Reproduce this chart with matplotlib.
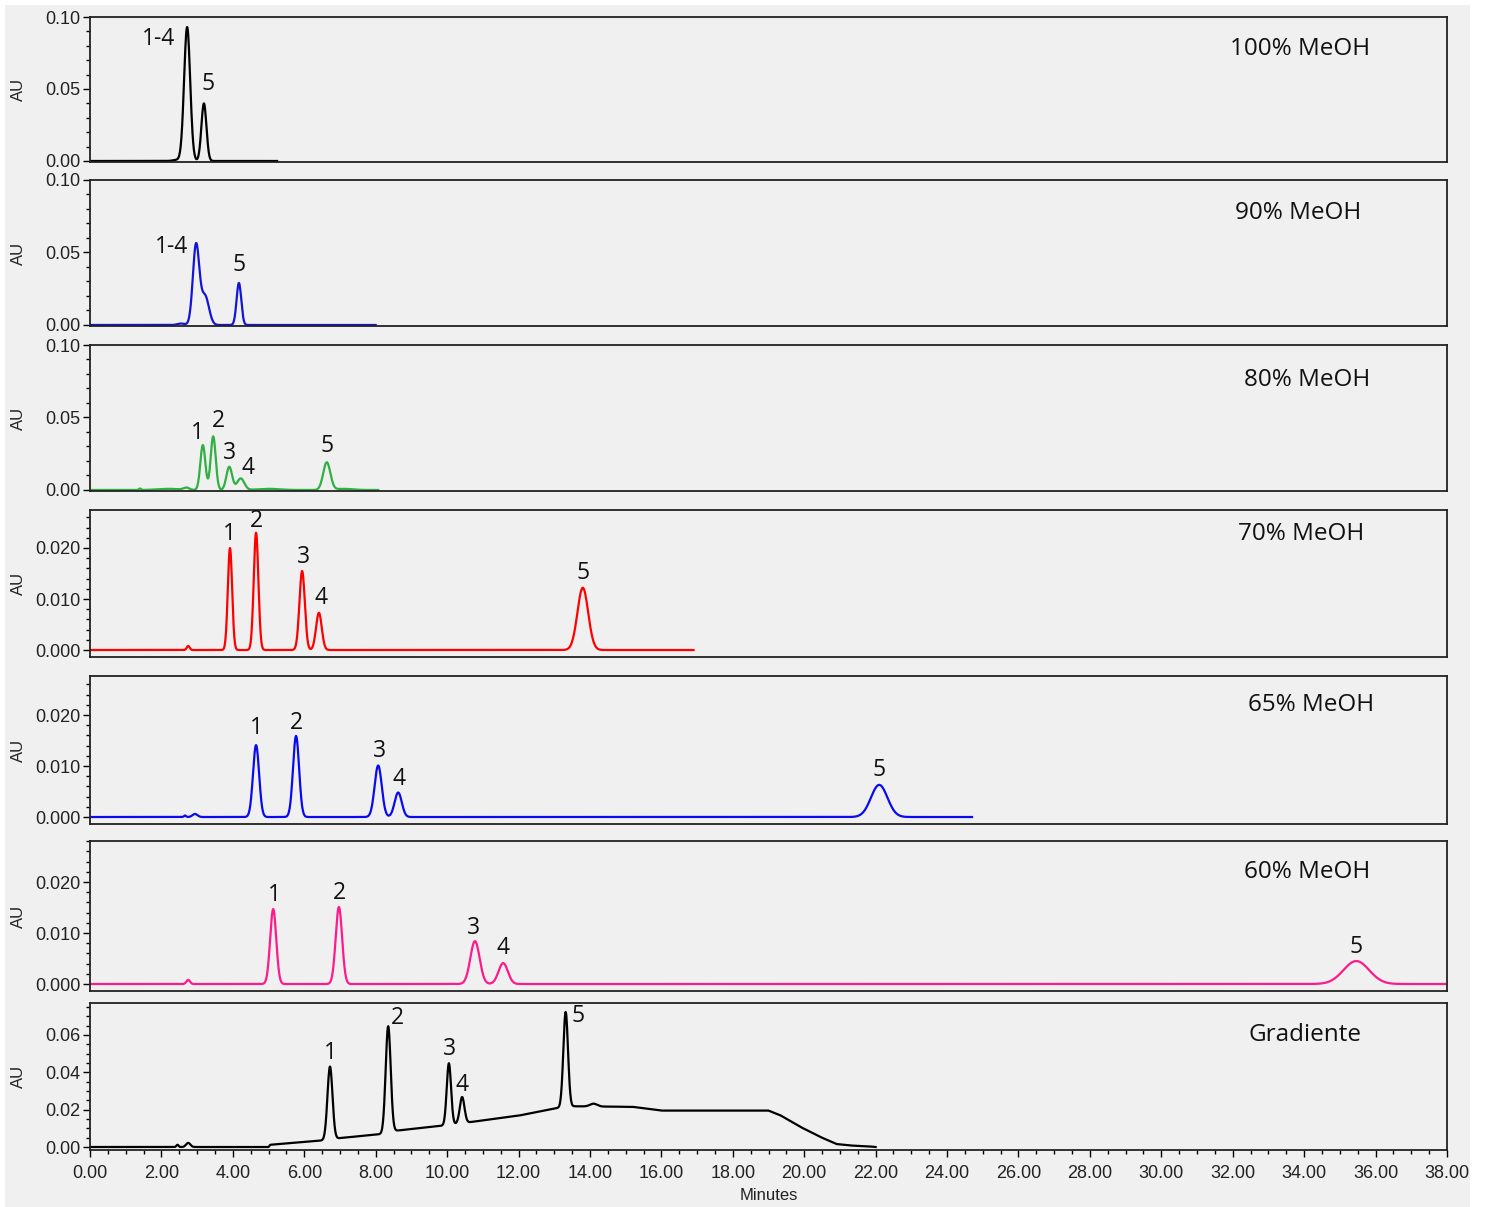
import numpy as np
import matplotlib.pyplot as plt
from matplotlib.patches import Rectangle
from matplotlib.ticker import MultipleLocator, FormatStrFormatter

# peak tables: retention time (min), height (AU), peak sd (min)
rt_100 = [2.45, 2.72, 3.19]
h_100 = [0.0008, 0.093, 0.040]
sd_100 = [0.12, 0.085, 0.07]
lab_100 = ["", "1-4", "5"]

rt_90 = [2.55, 2.97, 3.22, 4.17]
h_90 = [0.001, 0.055, 0.020, 0.029]
sd_90 = [0.1, 0.09, 0.11, 0.065]
lab_90 = ["", "1-4", "", "5"]

rt_80 = [1.40, 2.20, 2.70, 3.16, 3.45, 3.90, 4.22, 5.00, 6.63, 7.10]
h_80 = [0.001, 0.0008, 0.0015, 0.031, 0.037, 0.016, 0.008, 0.0008, 0.019, 0.0008]
sd_80 = [0.03, 0.3, 0.08, 0.07, 0.07, 0.08, 0.1, 0.3, 0.1, 0.25]
lab_80 = ["", "", "", "1", "2", "3", "4", "", "5", ""]

rt_70 = [2.75, 3.92, 4.65, 5.94, 6.41, 13.80]
h_70 = [0.0008, 0.020, 0.023, 0.0155, 0.0073, 0.0122]
sd_70 = [0.04, 0.06, 0.065, 0.075, 0.08, 0.15]
lab_70 = ["", "1", "2", "3", "4", "5"]

rt_65 = [2.66, 2.94, 4.65, 5.77, 8.07, 8.63, 22.10]
h_65 = [0.0003, 0.0006, 0.0141, 0.0159, 0.0101, 0.0048, 0.0063]
sd_65 = [0.03, 0.07, 0.085, 0.085, 0.1, 0.1, 0.23]
lab_65 = ["", "", "1", "2", "3", "4", "5"]

rt_60 = [2.75, 5.13, 6.97, 10.78, 11.57, 35.46]
h_60 = [0.0008, 0.0147, 0.0151, 0.0084, 0.0041, 0.0045]
sd_60 = [0.05, 0.085, 0.09, 0.13, 0.13, 0.36]
lab_60 = ["", "1", "2", "3", "4", "5"]

rt_gr = [2.45, 2.75, 6.72, 8.35, 10.05, 10.42, 13.32, 14.10]
h_gr = [0.0012, 0.0022, 0.039, 0.057, 0.033, 0.014, 0.051, 0.0015]
sd_gr = [0.03, 0.06, 0.07, 0.07, 0.06, 0.065, 0.065, 0.1]
lab_gr = ["", "", "1", "2", "3", "4", "5", ""]

# gradient run baseline drift (min, AU)
base_t = [0.0, 5.0, 5.05, 6.5, 7.0, 8.2, 8.6, 9.9, 10.75, 12.0, 13.1, 13.56, 15.2,
          16.0, 19.0, 19.33, 19.9, 20.45, 20.9, 21.3, 21.85, 22.0]
base_y = [0.0, 0.0, 0.0012, 0.0035, 0.0048, 0.007, 0.0088, 0.0115, 0.0136, 0.0168,
          0.0209, 0.0218, 0.0215, 0.0195, 0.0195, 0.017, 0.0107, 0.0054, 0.0016,
          0.0008, 0.0003, 0.0]

run_end = [5.24, 8.0, 8.07, 16.9, 24.7, 38.0, 22.0]
titles = ["100% MeOH", "90% MeOH", "80% MeOH", "70% MeOH", "65% MeOH", "60% MeOH",
          "Gradiente"]
colors = ["black", "#1414d8", "#2eb043", "#ff0000", "#0a0af0", "#ff1a8c", "black"]

runs = [(rt_100, h_100, sd_100, lab_100), (rt_90, h_90, sd_90, lab_90),
        (rt_80, h_80, sd_80, lab_80), (rt_70, h_70, sd_70, lab_70),
        (rt_65, h_65, sd_65, lab_65), (rt_60, h_60, sd_60, lab_60),
        (rt_gr, h_gr, sd_gr, lab_gr)]

# label offsets in pixels (dx, dy) for labelled peaks of each run
offs = [[(-29, -12), (4, 19)],
        [(-25, -4), (0, 18)],
        [(-5, 12), (5, 15), (0, 14), (7, 10), (0, 16)],
        [(-1, 14), (0, 12), (1, 14), (2, 15), (0, 15)],
        [(0, 17), (0, 13), (1, 15), (1, 14), (0, 15)],
        [(1, 14), (1, 14), (-1, 13), (0, 15), (0, 14)],
        [(0, 14), (9, 8), (1, 14), (0, 12), (12, -4)]]

# panel boxes in pixels (top, bottom), y ranges, title placement (x, drop from top)
boxes = [(17, 162), (180, 326), (345, 491), (510, 657), (676, 824), (841, 991),
         (1003, 1150)]
ylims = [(-0.0007, 0.10), (-0.0007, 0.10), (-0.0007, 0.10), (-0.00137, 0.02745),
         (-0.00137, 0.02765), (-0.00137, 0.02804), (-0.0016, 0.0771)]
title_pos = [(1300, 32), (1298, 33), (1307, 35), (1301, 24), (1311, 29), (1307, 31),
             (1305, 32)]

W, H = 1489, 1207
fig = plt.figure(figsize=(W / 100, H / 100), dpi=100, facecolor="white")
fig.patches.append(Rectangle((5 / W, 0), 1465 / W, 1202 / H, transform=fig.transFigure,
                             facecolor="#f0f0f0", edgecolor="none", zorder=-10))

tick_font = ["Liberation Sans", "DejaVu Sans"]
txt_font = ["Open Sans", "DejaVu Sans"]
left, right = 90, 1447

for i, (rt, h, sd, lab) in enumerate(runs):
    top, bot = boxes[i]
    ax = fig.add_axes([left / W, 1 - bot / H, (right - left) / W, (bot - top) / H])
    ax.set_facecolor("#f0f0f0")

    t = np.arange(0, run_end[i] + 0.001, 0.01)
    y = np.zeros_like(t)
    if i == 6:
        y += np.interp(t, base_t, base_y)
    for r, hh, s in zip(rt, h, sd):
        y += hh * np.exp(-0.5 * ((t - r) / s) ** 2)
    ax.plot(t, y, color=colors[i], lw=1.6)

    k = 0
    for r, name in zip(rt, lab):
        if not name:
            continue
        dx, dy = offs[i][k]
        k += 1
        ax.annotate(name, (r, np.interp(r, t, y)), xytext=(dx, dy),
                    textcoords="offset pixels", ha="center", va="center",
                    fontsize=16.5, family=txt_font, color="#111111")

    tx, ty = title_pos[i]
    fig.text(tx / W, 1 - (top + ty) / H, titles[i], ha="center", va="center",
             fontsize=17.5, family=txt_font, color="#111111")

    ax.set_xlim(0, 38)
    ax.set_ylim(*ylims[i])
    if i < 3:
        ax.yaxis.set_major_locator(MultipleLocator(0.05))
        ax.yaxis.set_minor_locator(MultipleLocator(0.01))
        ax.yaxis.set_major_formatter(FormatStrFormatter("%.2f"))
    elif i < 6:
        ax.yaxis.set_major_locator(MultipleLocator(0.01))
        ax.yaxis.set_minor_locator(MultipleLocator(0.002))
        ax.yaxis.set_major_formatter(FormatStrFormatter("%.3f"))
    else:
        ax.yaxis.set_major_locator(MultipleLocator(0.02))
        ax.yaxis.set_minor_locator(MultipleLocator(0.005))
        ax.yaxis.set_major_formatter(FormatStrFormatter("%.2f"))

    for sp in ax.spines.values():
        sp.set_linewidth(1.3)
        sp.set_color("#222222")
    ax.tick_params(axis="y", which="major", direction="out", length=5, width=1,
                   labelsize=13, pad=2, labelcolor="#222222")
    ax.tick_params(axis="y", which="minor", direction="out", length=3, width=1)
    for lbl in ax.get_yticklabels():
        lbl.set_family(tick_font)

    if i < 6:
        ax.tick_params(axis="x", which="both", bottom=False, labelbottom=False)
    else:
        ax.xaxis.set_major_locator(MultipleLocator(2))
        ax.xaxis.set_minor_locator(MultipleLocator(0.5))
        ax.xaxis.set_major_formatter(FormatStrFormatter("%.2f"))
        ax.tick_params(axis="x", which="major", direction="out", length=5, width=1,
                       labelsize=13, pad=6, labelcolor="#222222")
        ax.tick_params(axis="x", which="minor", direction="out", length=3, width=1)
        for lbl in ax.get_xticklabels():
            lbl.set_family(tick_font)

    fig.text(18 / W, 1 - (top + bot) / 2 / H, "AU", rotation=90, ha="center",
             va="center", fontsize=12, family=tick_font, color="#222222")

fig.text((left + right) / 2 / W, 1 - 1195 / H, "Minutes", ha="center", va="center",
         fontsize=12, family=tick_font, color="#222222")

plt.savefig("out.png", dpi=100, facecolor=fig.get_facecolor())
